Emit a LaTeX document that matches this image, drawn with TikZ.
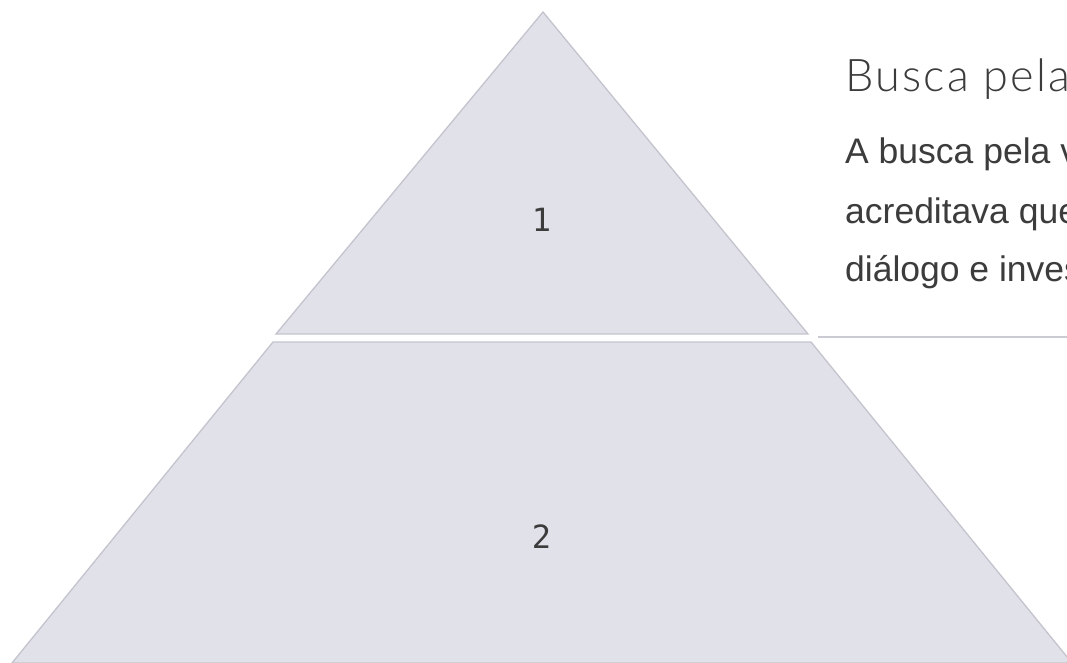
\documentclass[tikz,border=0pt]{standalone}
\usepackage{fontspec}
\setmainfont{Liberation Sans}
\newfontfamily\titlefont{Lato Light}[LetterSpace=5]
\newfontfamily\numfont{DejaVu Sans Mono}
\definecolor{layerfill}{RGB}{225,225,234}
\definecolor{layerline}{RGB}{196,196,206}
\definecolor{sepline}{RGB}{202,202,210}
\definecolor{txt}{RGB}{60,60,60}
\tikzset{
  layer/.style={fill=layerfill, draw=layerline, line width=1.3pt, line join=miter},
  sepstyle/.style={draw=sepline, line width=1.3pt},
  numlabel/.style={font=\numfont\fontsize{32}{36}\selectfont, text=txt, inner sep=0pt},
  titlelabel/.style={font=\titlefont\fontsize{45}{50}\selectfont, text=txt, inner sep=0pt, anchor=base west},
  bodylabel/.style={font=\fontsize{35.5}{40}\selectfont, text=txt, inner sep=0pt, anchor=base west}
}
\begin{document}
\begin{tikzpicture}[x=1pt,y=-1pt]
\useasboundingbox (0,0) rectangle (1067,663);
\clip (0,0) rectangle (1067,663);
\fill[white] (0,0) rectangle (1067,663);
% layer 1 (top triangle)
\draw[layer] (543,12) -- (808,334) -- (276,334) -- cycle;
% layer 2 (trapezoid)
\draw[layer] (273,342) -- (811,342) -- (1072,663) -- (12,663) -- cycle;
\node[numlabel] (n1) at (541.5,220) {1};
\node[numlabel] (n2) at (541.5,537) {2};
% separator line
\coordinate (s1) at (818,337);
\coordinate (s2) at (1067,337);
\draw[sepstyle] (s1) -- (s2);
% text
\node[titlelabel] (title) at (845,92) {Busca pela};
\node[bodylabel] (b1) at (845,164) {A busca pela v};
\node[bodylabel] (b2) at (845,223) {acreditava que};
\node[bodylabel] (b3) at (845,281) {diálogo e inves};
\end{tikzpicture}
\end{document}
